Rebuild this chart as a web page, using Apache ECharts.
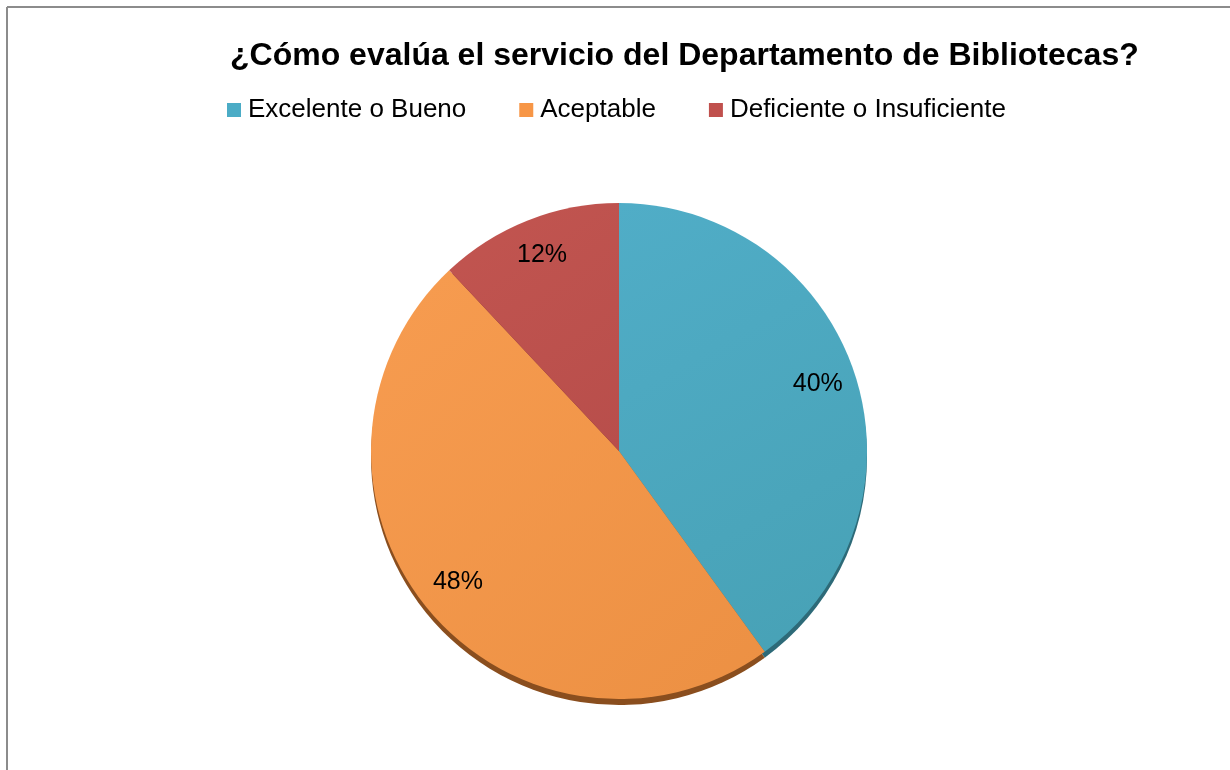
<!DOCTYPE html>
<html>
<head>
<meta charset="utf-8">
<title>Departamento de Bibliotecas</title>
<script src="https://cdn.jsdelivr.net/npm/echarts@6/dist/echarts.min.js"></script>
<style>
  html, body { margin: 0; padding: 0; background: #fff; }
  #chart { width: 1230px; height: 770px; }
</style>
</head>
<body>
<div id="chart"></div>
<script>
// datos de la encuesta
var categories = ["Excelente o Bueno", "Aceptable", "Deficiente o Insuficiente"];
var values = [40, 48, 12];
var colors = ["#4BACC6", "#F79646", "#C0504D"];
var edgeColors = ["#2D6A78", "#8A4E1E", "#7A2F2D"];

var chart = echarts.init(document.getElementById("chart"));

function grad(c1, c2) {
  return new echarts.graphic.LinearGradient(0, 0, 1, 1, [
    { offset: 0, color: c1 },
    { offset: 1, color: c2 }
  ]);
}
var faceColors = [
  grad("#50ADC7", "#47A1B5"),
  grad("#F79C50", "#EC9043"),
  grad("#C25550", "#B84E4B")
];

var mainData = [];
var edgeData = [];
var labelData = [];
var legendData = [];
for (var i = 0; i < categories.length; i++) {
  mainData.push({ name: categories[i], value: values[i], itemStyle: { color: faceColors[i] } });
  edgeData.push({ name: categories[i], value: values[i], itemStyle: { color: edgeColors[i] } });
  labelData.push({ name: categories[i], value: values[i] });
  legendData.push({ name: categories[i], itemStyle: { color: colors[i] } });
}

var font = "Liberation Sans, Arial, sans-serif";

var option = {
  animation: false,
  title: {
    text: "¿Cómo evalúa el servicio del Departamento de Bibliotecas?",
    left: 225,
    top: 35,
    textStyle: {
      fontFamily: font,
      fontSize: 32,
      fontWeight: "bold",
      color: "#000"
    }
  },
  legend: {
    data: legendData,
    left: 222,
    top: 92,
    itemWidth: 14,
    itemHeight: 14,
    itemGap: 53,
    icon: "rect",
    textStyle: {
      fontFamily: font,
      fontSize: 26,
      color: "#000",
      padding: [0, 0, 0, 2]
    }
  },
  graphic: [
    { type: "line", shape: { x1: 7, y1: 7, x2: 1230, y2: 7 }, style: { stroke: "#8c8c8c", lineWidth: 2 } },
    { type: "line", shape: { x1: 7, y1: 7, x2: 7, y2: 770 }, style: { stroke: "#8c8c8c", lineWidth: 2 } }
  ],
  series: [
    {
      name: "Servicio",
      type: "pie",
      z: 3,
      center: [619, 451],
      radius: [0, 248],
      startAngle: 90,
      clockwise: true,
      label: { show: false },
      labelLine: { show: false },
      data: mainData
    },
    {
      // borde inferior (efecto 3D)
      type: "pie",
      silent: true,
      z: 1,
      center: [619, 457],
      radius: [0, 248],
      startAngle: 90,
      clockwise: true,
      label: { show: false },
      labelLine: { show: false },
      data: edgeData
    },
    {
      // solo etiquetas
      type: "pie",
      silent: true,
      z: 4,
      center: [619, 449],
      radius: [164, 248],
      startAngle: 90,
      clockwise: true,
      itemStyle: { color: "rgba(0,0,0,0)" },
      label: {
        show: true,
        position: "inside",
        formatter: "{c}%",
        fontFamily: font,
        fontSize: 25,
        color: "#000"
      },
      labelLine: { show: false },
      data: labelData
    }
  ]
};

chart.setOption(option);
window.addEventListener("resize", function () {
  chart.resize();
});
</script>
</body>
</html>
